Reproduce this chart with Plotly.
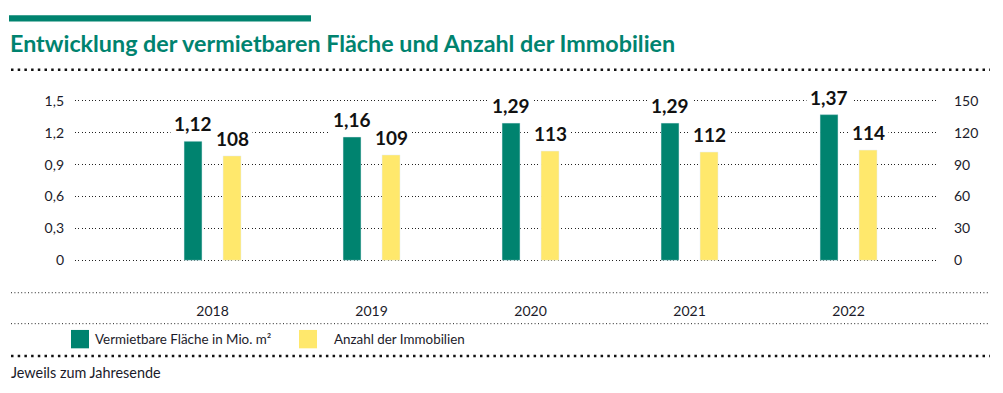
import plotly.graph_objects as go

# ---- data ----
years = ["2018", "2019", "2020", "2021", "2022"]
flaeche = [1.12, 1.16, 1.29, 1.29, 1.37]          # Vermietbare Fläche in Mio. m²
anzahl = [108, 109, 113, 112, 114]               # Anzahl der Immobilien
left_tickvals = [0, 0.3, 0.6, 0.9, 1.2, 1.5]
left_ticktext = ["0", "0,3", "0,6", "0,9", "1,2", "1,5"]
right_tickvals = [0, 30, 60, 90, 120, 150]
series_names = ["Vermietbare Fläche in Mio. m²", "Anzahl der Immobilien"]
title_text = "Entwicklung der vermietbaren Fläche und Anzahl der Immobilien"
footer_text = "Jeweils zum Jahresende"

# ---- style ----
W, H = 1003, 393
TEAL = "#00836F"
YELLOW = "#FFE86C"
TXT = "#1b1b2a"
FONT = "Lato"


def px(x):
    return x / W


def py(y):
    return 1 - y / H


step = 159.0
bw = 18 / step
off_g = -28.5 / step
off_y = 10.5 / step

fig = go.Figure()
fig.add_trace(go.Bar(x=years, y=flaeche, name=series_names[0], marker_color=TEAL,
                     width=bw, offset=off_g, yaxis="y", hoverinfo="skip"))
fig.add_trace(go.Bar(x=years, y=anzahl, name=series_names[1], marker_color=YELLOW,
                     width=bw, offset=off_y, yaxis="y2", hoverinfo="skip"))
# right axis carrier (no visible marks)
fig.add_trace(go.Scatter(x=[years[0]], y=[None], yaxis="y3", showlegend=False, hoverinfo="skip"))

# value labels
annotations = []
lab_font = dict(family=FONT, size=19, color="#111", weight="bold")
for i, v in enumerate(flaeche):
    annotations.append(dict(x=i + off_g + bw / 2, y=v, xref="x", yref="y",
                            text=f"{v:.2f}".replace(".", ","), showarrow=False,
                            yanchor="bottom", yshift=2, bgcolor="white", borderpad=3,
                            font=lab_font))
for i, v in enumerate(anzahl):
    annotations.append(dict(x=i + off_y + bw / 2, y=v, xref="x", yref="y2",
                            text=str(v), showarrow=False,
                            yanchor="bottom", yshift=2, bgcolor="white", borderpad=3,
                            font=lab_font))

# title, legend, footer
annotations.append(dict(x=px(8), y=py(37), xref="paper", yref="paper", xanchor="left",
                        yanchor="middle", text=title_text, showarrow=False,
                        font=dict(family=FONT, size=23.3, color=TEAL, weight="bold")))
annotations.append(dict(x=px(93), y=py(343), xref="paper", yref="paper", xanchor="left",
                        yanchor="middle", text=series_names[0], showarrow=False,
                        font=dict(family=FONT, size=13.4, color=TXT)))
annotations.append(dict(x=px(332), y=py(343), xref="paper", yref="paper", xanchor="left",
                        yanchor="middle", text=series_names[1], showarrow=False,
                        font=dict(family=FONT, size=13.4, color=TXT)))
annotations.append(dict(x=px(9), y=py(378), xref="paper", yref="paper", xanchor="left",
                        yanchor="middle", text=footer_text, showarrow=False,
                        font=dict(family=FONT, size=14.4, color=TXT)))

shapes = [
    dict(type="rect", xref="paper", yref="paper", x0=px(9), x1=px(311), y0=py(15), y1=py(8.5),
         fillcolor=TEAL, line=dict(width=0)),
    dict(type="rect", xref="paper", yref="paper", x0=px(71), x1=px(89), y0=py(353), y1=py(334),
         fillcolor=TEAL, line=dict(width=0)),
    dict(type="rect", xref="paper", yref="paper", x0=px(299), x1=px(317), y0=py(353), y1=py(334),
         fillcolor=YELLOW, line=dict(width=0)),
]
for yy in (65, 361):
    shapes.append(dict(type="line", xref="paper", yref="paper", x0=px(11), x1=px(990),
                       y0=py(yy), y1=py(yy), line=dict(color="#111", width=2.5, dash="2.5px,4.2px")))
for yy in (295.5, 327.5):
    shapes.append(dict(type="line", xref="paper", yref="paper", x0=px(11), x1=px(988),
                       y0=py(yy), y1=py(yy), line=dict(color="#222", width=1, dash="1px,2.4px")))

ydom = [1 - 264.2 / H, 1 - 94.8 / H]
fig.update_layout(
    width=W, height=H, margin=dict(l=0, r=0, t=0, b=0),
    paper_bgcolor="white", plot_bgcolor="white",
    showlegend=False, barmode="overlay",
    font=dict(family=FONT, size=14, color=TXT),
    xaxis=dict(domain=[px(75), px(939)], type="category", range=[-0.865, 4.569],
               showgrid=False, zeroline=False, showline=False, ticks="",
               tickfont=dict(size=14, color=TXT), ticklabelstandoff=39),
    yaxis=dict(domain=ydom, range=[-0.02, 1.52], tickvals=left_tickvals, ticktext=left_ticktext,
               showgrid=True, gridcolor="#222", gridwidth=1, griddash="1px,2.4px",
               zeroline=False, showline=False, ticks="", ticklabelstandoff=10,
               tickfont=dict(size=14, color=TXT)),
    yaxis2=dict(overlaying="y", range=[-2.2, 167.2], visible=False),
    yaxis3=dict(overlaying="y", side="right", range=[-2, 152], tickvals=right_tickvals,
                showgrid=False, zeroline=False, showline=False, ticks="", ticklabelstandoff=14,
                tickfont=dict(size=14, color=TXT)),
    annotations=annotations, shapes=shapes,
)

fig.write_html("out.html", config={"displayModeBar": False},
               post_script="document.body.style.margin='0px';")
